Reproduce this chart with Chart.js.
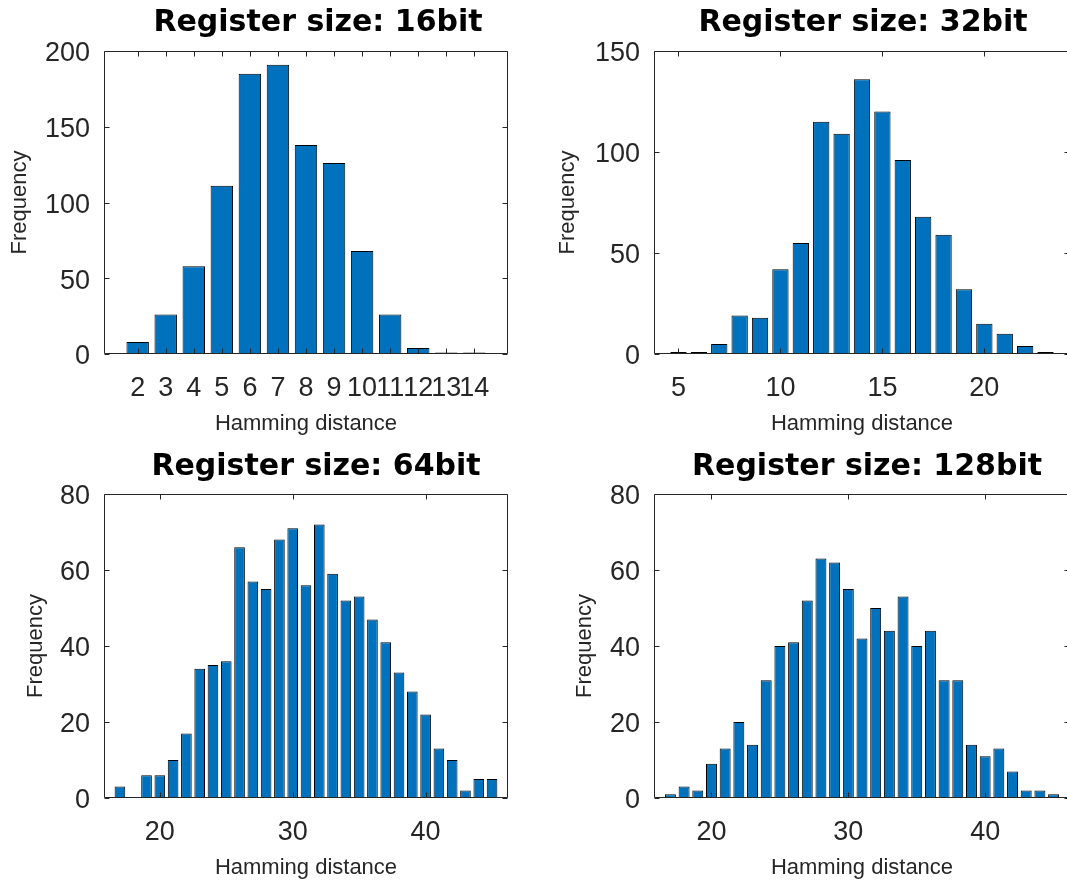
<!DOCTYPE html>
<html>
<head>
<meta charset="utf-8">
<script src="https://cdn.jsdelivr.net/npm/chart.js@4.4.1/dist/chart.umd.min.js"></script>
<style>
  html, body { margin: 0; padding: 0; background: #fff; overflow: hidden; width: 1067px; height: 882px; position: relative; }
  canvas { position: absolute; }
</style>
</head>
<body>
<canvas id="c16" width="533" height="441" style="left:0;top:0"></canvas>
<canvas id="c32" width="545" height="441" style="left:533px;top:0"></canvas>
<canvas id="c64" width="533" height="441" style="left:0;top:441px"></canvas>
<canvas id="c128" width="545" height="441" style="left:533px;top:441px"></canvas>
<script>
// Hamming distance histograms, one per register size
const hd16 = [2, 3, 4, 5, 6, 7, 8, 9, 10, 11, 12, 13, 14];
const freq16 = [8, 26, 58, 111, 185, 191, 138, 126, 68, 26, 4, 1, 1];

const hd32 = [5, 6, 7, 8, 9, 10, 11, 12, 13, 14, 15, 16, 17, 18, 19, 20, 21, 22, 23];
const freq32 = [1, 1, 5, 19, 18, 42, 55, 115, 109, 136, 120, 96, 68, 59, 32, 15, 10, 4, 1];

const hd64 = [17, 18, 19, 20, 21, 22, 23, 24, 25, 26, 27, 28, 29, 30, 31, 32, 33, 34, 35, 36, 37, 38, 39, 40, 41, 42, 43, 44, 45];
const freq64 = [3, 0, 6, 6, 10, 17, 34, 35, 36, 66, 57, 55, 68, 71, 56, 72, 59, 52, 53, 47, 41, 33, 28, 22, 13, 10, 2, 5, 5];

const hd128 = [17, 18, 19, 20, 21, 22, 23, 24, 25, 26, 27, 28, 29, 30, 31, 32, 33, 34, 35, 36, 37, 38, 39, 40, 41, 42, 43, 44, 45];
const freq128 = [1, 3, 2, 9, 13, 20, 14, 31, 40, 41, 52, 63, 62, 55, 42, 50, 44, 53, 40, 44, 31, 31, 14, 11, 13, 7, 2, 2, 1];

// tick values and axis limits
const xTicks16 = [2, 3, 4, 5, 6, 7, 8, 9, 10, 11, 12, 13, 14];
const xTicks32 = [5, 10, 15, 20];
const xTicks64 = [20, 30, 40];
const xTicks128 = [20, 30, 40];
const xLim16 = [0.8, 15.2];
const xLim32 = [3.8, 24.2];
const xLim64 = [15.8, 46.2];
const xLim128 = [15.8, 46.2];
const yMax = [200, 150, 80, 80];
const yStep = [50, 50, 20, 20];

const titles = ['Register size: 16bit', 'Register size: 32bit', 'Register size: 64bit', 'Register size: 128bit'];

const AXIS_COLOR = '#262626';
const BAR_COLOR = '#0072BD';

// MATLAB-style box with inward ticks on all four sides
const boxPlugin = {
    id: 'matlabBox',
    afterDatasetsDraw(chart) {
        const { ctx, chartArea: a, scales } = chart;
        const x = scales.x, y = scales.y;
        const L = Math.round(a.left) + 0.5, R = Math.round(a.right) - 0.5;
        const T = Math.round(a.top) + 0.5, B = Math.round(a.bottom) - 0.5;
        ctx.save();
        ctx.strokeStyle = AXIS_COLOR;
        ctx.lineWidth = 1;
        ctx.beginPath();
        ctx.rect(L, T, R - L, B - T);
        x.ticks.forEach(t => {
            const px = Math.round(x.getPixelForValue(t.value)) + 0.5;
            ctx.moveTo(px, B); ctx.lineTo(px, B - 5);
            ctx.moveTo(px, T); ctx.lineTo(px, T + 5);
        });
        y.ticks.forEach(t => {
            const py = Math.round(y.getPixelForValue(t.value)) + 0.5;
            ctx.moveTo(L, py); ctx.lineTo(L + 5, py);
            ctx.moveTo(R, py); ctx.lineTo(R - 5, py);
        });
        ctx.stroke();
        ctx.restore();
    }
};

// nudge the title sideways (MATLAB does not centre it exactly on the axes)
const titleShift = {
    id: 'titleShift',
    afterLayout(chart, args, opts) {
        const tb = chart.titleBlock;
        if (tb && opts.dx) {
            tb.left += opts.dx;
            tb.right += opts.dx;
        }
    }
};

function makeChart(id, idx, xs, ys, xTicks, xLim, lay) {
    const ctx = document.getElementById(id).getContext('2d');
    const W = ctx.canvas.width, H = ctx.canvas.height;
    const area = lay.area; // [left, top, right, bottom] in canvas px
    const titleLH = 30 * 1.2;
    const axLH = 22 * 1.2;

    return new Chart(ctx, {
        type: 'bar',
        data: {
            datasets: [{
                data: xs.map((v, i) => ({ x: v, y: ys[i] })),
                backgroundColor: BAR_COLOR,
                borderColor: '#000',
                borderWidth: 1,
                borderSkipped: false,
                barPercentage: 0.8,
                categoryPercentage: 1.0
            }]
        },
        plugins: [boxPlugin, titleShift],
        options: {
            responsive: false,
            animation: false,
            devicePixelRatio: 1,
            layout: { padding: { left: 0, top: 0, right: W - area[2], bottom: 0 } },
            plugins: {
                legend: { display: false },
                tooltip: { enabled: false },
                title: {
                    display: true,
                    text: titles[idx],
                    fullSize: false,
                    color: '#000',
                    font: { family: 'DejaVu Sans', size: 30, weight: 'bold', lineHeight: 1.2 },
                    padding: { top: lay.titleTop, bottom: area[1] - titleLH - lay.titleTop }
                },
                titleShift: { dx: lay.titleDx }
            },
            scales: {
                x: {
                    type: 'linear',
                    offset: false,
                    min: xLim[0],
                    max: xLim[1],
                    grid: { display: false, drawTicks: false },
                    border: { display: false },
                    afterBuildTicks: s => { s.ticks = xTicks.map(v => ({ value: v })); },
                    afterFit: s => { s.height = H - area[3]; },
                    ticks: {
                        autoSkip: false,
                        maxRotation: 0,
                        padding: 18,
                        color: AXIS_COLOR,
                        font: { family: 'Liberation Sans', size: 27 }
                    },
                    title: {
                        display: true,
                        text: 'Hamming distance',
                        color: AXIS_COLOR,
                        font: { family: 'Liberation Sans', size: 22, lineHeight: 1.2 },
                        padding: { top: 0, bottom: H - axLH / 2 - (area[3] + 70) }
                    }
                },
                y: {
                    min: 0,
                    max: yMax[idx],
                    grid: { display: false, drawTicks: false },
                    border: { display: false },
                    afterFit: s => { s.width = area[0]; },
                    ticks: {
                        stepSize: yStep[idx],
                        padding: 14,
                        labelOffset: 3,
                        color: AXIS_COLOR,
                        font: { family: 'Liberation Sans', size: 27 }
                    },
                    title: {
                        display: true,
                        text: 'Frequency',
                        color: AXIS_COLOR,
                        font: { family: 'Liberation Sans', size: 22, lineHeight: 1.2 },
                        padding: { top: lay.yTitle - axLH / 2, bottom: 0 }
                    }
                }
            }
        }
    });
}

makeChart('c16', 0, hd16, freq16, xTicks16, xLim16, { area: [104, 51, 508, 354], titleTop: 5, titleDx: 12, yTitle: 20 });
makeChart('c32', 1, hd32, freq32, xTicks32, xLim32, { area: [121, 51, 537, 354], titleTop: 5, titleDx: 1, yTitle: 35 });
makeChart('c64', 2, hd64, freq64, xTicks64, xLim64, { area: [104, 53, 508, 357], titleTop: 8, titleDx: 10, yTitle: 36 });
makeChart('c128', 3, hd128, freq128, xTicks128, xLim128, { area: [121, 53, 537, 357], titleTop: 8, titleDx: 5, yTitle: 52 });
</script>
</body>
</html>
